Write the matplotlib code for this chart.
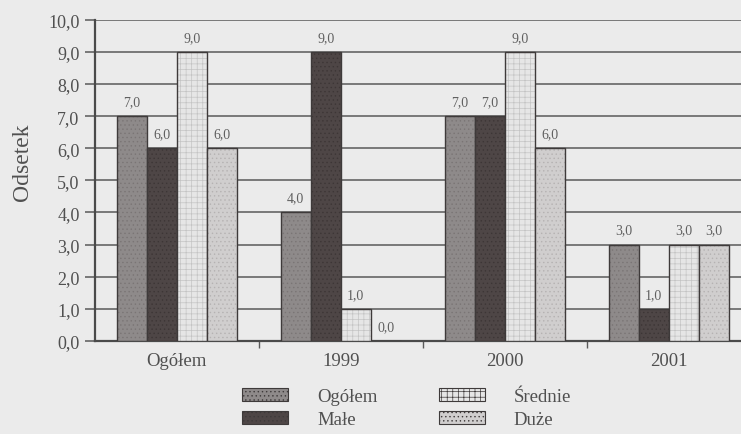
import numpy as np
import matplotlib.pyplot as plt
from matplotlib.patches import Patch

categories = ['Ogółem', '1999', '2000', '2001']
series = ['Ogółem', 'Małe', 'Średnie', 'Duże']
values = {
    'Ogółem': [7.0, 4.0, 7.0, 3.0],
    'Małe': [6.0, 9.0, 7.0, 1.0],
    'Średnie': [9.0, 1.0, 9.0, 3.0],
    'Duże': [6.0, 0.0, 6.0, 3.0],
}
yticks = np.arange(0, 11, 1)

styles = {
    'Ogółem': dict(facecolor='#8e8a8a', hatch='....', hatchcolor='#7a7575'),
    'Małe': dict(facecolor='#4e4646', hatch='....', hatchcolor='#3d3636'),
    'Średnie': dict(facecolor='#e6e6e6', hatch='+++', hatchcolor='#c4c4c4'),
    'Duże': dict(facecolor='#d0cece', hatch='....', hatchcolor='#b5b2b2'),
}

bg = '#ebebeb'
txt = '#505050'
plt.rcParams['font.family'] = ['Liberation Serif', 'DejaVu Serif']
plt.rcParams['hatch.linewidth'] = 0.5

fig = plt.figure(figsize=(7.41, 4.35), dpi=100, facecolor=bg)
ax = fig.add_axes([0.128, 0.214, 0.8853, 0.738], facecolor=bg)

x = np.arange(len(categories))
w = 0.183
for i, s in enumerate(series):
    st = styles[s]
    pos = x + (i - 1.5) * w
    bars = ax.bar(pos, values[s], width=w, facecolor=st['facecolor'],
                  edgecolor='#3e3a3a', linewidth=1.0, hatch=st['hatch'], zorder=3)
    for b in bars:
        b._hatch_color = plt.matplotlib.colors.to_rgba(st['hatchcolor'])
    for p, v in zip(pos, values[s]):
        ax.text(p, v + 0.25, f'{v:.1f}'.replace('.', ','), ha='center', va='bottom',
                fontsize=10, color='#606060', zorder=4)

ax.set_xlim(-0.5, 3.5)
ax.set_ylim(0, 10)
ax.set_yticks(yticks)
ax.set_yticklabels([f'{t:.1f}'.replace('.', ',') for t in yticks], fontsize=13, color=txt)
ax.yaxis.grid(True, color='#5a5a5a', linewidth=1.1, zorder=0)
ax.set_axisbelow(True)
ax.tick_params(axis='y', length=7, width=1.1, color='#5a5a5a', pad=4)

ax.set_xticks(x)
ax.set_xticklabels(categories, fontsize=13.5, color=txt)
ax.tick_params(axis='x', length=0, pad=8)
ax.set_xticks([0.5, 1.5, 2.5], minor=True)
ax.tick_params(axis='x', which='minor', length=5, width=1.0, color='#5a5a5a')

for side in ['top', 'right']:
    ax.spines[side].set_visible(False)
ax.spines['left'].set_color('#4a4a4a')
ax.spines['left'].set_linewidth(1.6)
ax.spines['bottom'].set_color('#4a4a4a')
ax.spines['bottom'].set_linewidth(1.6)

ax.set_ylabel('Odsetek', fontsize=17, color=txt)
ax.yaxis.set_label_coords(-0.094, 0.56)

handles = [Patch(facecolor=styles[s]['facecolor'], edgecolor='#3e3a3a', hatch=styles[s]['hatch'],
                 linewidth=0.8) for s in series]
fig.legend(handles, series, loc='center', bbox_to_anchor=(0.549, 0.06), ncol=2,
           frameon=False, fontsize=13.5, labelcolor=txt,
           handlelength=2.45, handleheight=0.65, handletextpad=1.55,
           columnspacing=3.25, labelspacing=0.32)

fig.savefig('out.png', dpi=100, facecolor=bg)
